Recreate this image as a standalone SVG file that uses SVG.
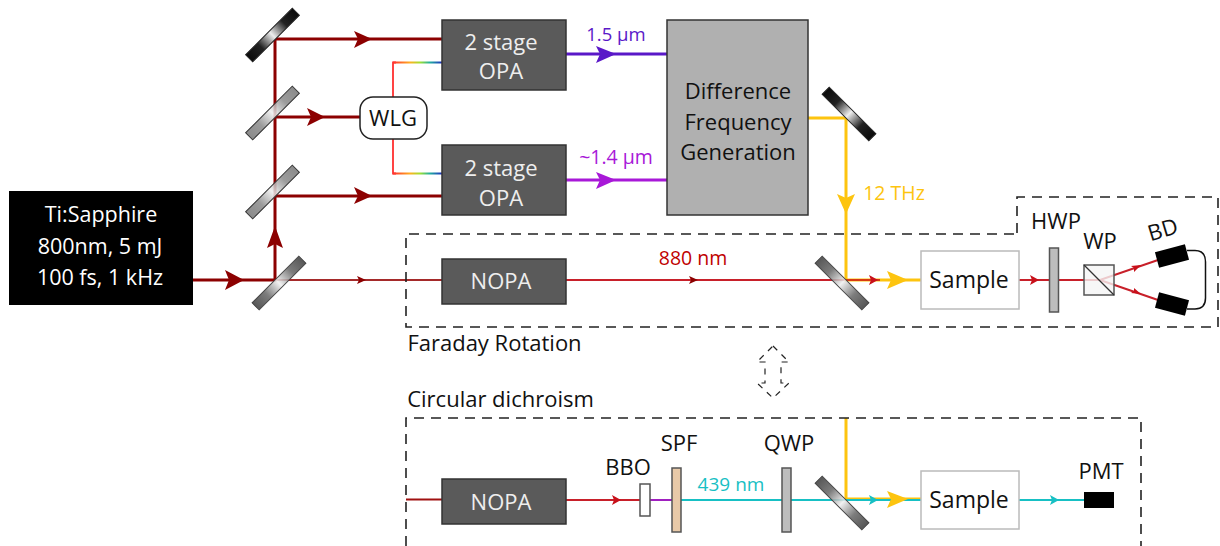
<svg xmlns="http://www.w3.org/2000/svg" width="1220" height="546" viewBox="0 0 1220 546">
<style>
text{font-family:"Open Sans","Noto Sans","Liberation Sans",sans-serif;font-size:22px;fill:#111;text-anchor:middle}
.box{fill:#5a5a5a;stroke:#333;stroke-width:1.5}
.w{fill:#eee}
.k{fill:#fff;font-size:21.500px}
.beam{fill:none;stroke:#8c0000;stroke-width:3}
.beam2{fill:none;stroke:#a52a2a;stroke-width:2}
.red{fill:none;stroke:#c8202a;stroke-width:2}
.cy{fill:none;stroke:#17c0c4;stroke-width:2}
.yl{fill:none;stroke:#fdc40f;stroke-width:3}
.dash{fill:none;stroke:#222;stroke-width:1.6;stroke-dasharray:10 7}
.plate{fill:#bdbdbd;stroke:#555;stroke-width:1.5}
.sample{fill:#fff;stroke:#bbb;stroke-width:1.5}
</style>
<defs>
<linearGradient id="m1"><stop offset="0" stop-color="#0a0a0a"/><stop offset=".25" stop-color="#222"/><stop offset=".5" stop-color="#eee"/><stop offset=".75" stop-color="#222"/><stop offset="1" stop-color="#0a0a0a"/></linearGradient>
<linearGradient id="m2"><stop offset="0" stop-color="#777"/><stop offset=".25" stop-color="#8a8a8a"/><stop offset=".5" stop-color="#eee"/><stop offset=".75" stop-color="#8a8a8a"/><stop offset="1" stop-color="#777"/></linearGradient>
<linearGradient id="m3"><stop offset="0" stop-color="#3a3a3a"/><stop offset=".25" stop-color="#666"/><stop offset=".5" stop-color="#eee"/><stop offset=".75" stop-color="#666"/><stop offset="1" stop-color="#3a3a3a"/></linearGradient>
<linearGradient id="sp" x1="0" x2="1" y1="0" y2="0"><stop offset="0" stop-color="#ff3030"/><stop offset=".35" stop-color="#ffb020"/><stop offset=".55" stop-color="#a0e030"/><stop offset=".75" stop-color="#20b0a0"/><stop offset="1" stop-color="#2030c0"/></linearGradient>
</defs>

<g id="connectors">
<path class="beam" d="M193 280H275V39H442M275 117H360M275 196H442"/>
<path class="beam2" d="M275 280H442"/>
<path d="M566 280H846" class="red"/>
<path d="M393 97V62.500H396" fill="none" stroke="#ff3030" stroke-width="1.800"/>
<path d="M393 139V173.500H396" fill="none" stroke="#ff3030" stroke-width="1.800"/>
<rect x="393" y="61.500" width="49" height="2" fill="url(#sp)"/>
<rect x="393" y="172.500" width="49" height="2" fill="url(#sp)"/>
<path d="M566 54H667" fill="none" stroke="#5a18c8" stroke-width="3"/>
<path d="M566 180H667" fill="none" stroke="#a818d8" stroke-width="3"/>
<path class="yl" d="M808 118H846V280H921"/>
<path d="M846 280H880" fill="none" stroke="#d83a10" stroke-width="2"/>
<path class="red" d="M1019 280H1100L1158 260M1100 280L1158 300"/>
<path d="M1187 250.500H1195Q1205.500 250.500 1205.500 262V298Q1205.500 309 1195 309H1187" fill="none" stroke="#111" stroke-width="1.500"/>
<path d="M406 499.500H442" fill="none" stroke="#a01010" stroke-width="2"/>
<path class="red" d="M566 500H640"/>
<path d="M650 500H675" fill="none" stroke="#a020c0" stroke-width="2"/>
<path class="yl" d="M846 418V499H921"/>
<path class="cy" d="M681 500H921M1019 500H1084"/>
<g fill="#8c0000">
<polygon points="225,270 244,280 225,290 229,280"/>
<polygon points="275,226 283,248 275,244 267,248"/>
<polygon points="354,31 372,39 354,48 358,39"/>
<polygon points="307,108 325,117 307,126 311,117"/>
<polygon points="354,187 372,196 354,204 358,196"/>
<polygon points="357,276 366,280 357,284 359,280"/>
<polygon points="689,276 698,280 689,284 691,280"/>
</g>
<polygon points="596,46 616,54 596,63 600,54" fill="#5a18c8"/>
<polygon points="596,172 616,180 596,189 600,180" fill="#a818d8"/>
<polygon points="837,194 846,214 855,194 846,198" fill="#fdc40f"/>
<polygon points="887,271 908,280 887,289 891,280" fill="#fdc40f"/>
<polygon points="887,491 908,499 887,508 891,499" fill="#fdc40f"/>
<g fill="#c8101a">
<polygon points="869,275 878,280 869,285 871,280"/>
<polygon points="1030,275 1039,280 1030,285 1032,280"/>
<polygon points="1131,266 1141,265 1134,272 1134,268"/>
<polygon points="1134,288 1141,294 1131,293 1134,291"/>
<polygon points="612,495 621,500 612,505 614,500"/>
</g>
<g fill="#17c0c4">
<polygon points="869,495 878,500 869,505 871,500"/>
<polygon points="1050,495 1059,500 1050,505 1052,500"/>
</g>
</g>

<g id="frames">
<path class="dash" d="M1017 233V197H1218V327H406V234H1017"/>
<path class="dash" d="M406 546V418H1141V546"/>
<path d="M773 346L789 362H781V383H789L773 398L757 383H765V362H757Z" fill="none" stroke="#222" stroke-width="1.200" stroke-dasharray="6 6"/>
</g>

<g id="laser"><rect x="9" y="191" width="184" height="114" fill="#000"/>
<text class="k" x="101" y="222">Ti:Sapphire</text>
<text class="k" x="100" y="254">800nm, 5 mJ</text>
<text class="k" x="100" y="285">100 fs, 1 kHz</text></g>

<g id="mirrors">
<rect x="-33" y="-5" width="66" height="10" transform="translate(272.500 35) rotate(-45)" fill="url(#m1)" stroke="#222"/>
<rect x="-33" y="-5" width="66" height="10" transform="translate(272.500 113) rotate(-45)" fill="url(#m2)" stroke="#333" fill-opacity=".85"/>
<rect x="-33" y="-5" width="66" height="10" transform="translate(272.500 192) rotate(-45)" fill="url(#m2)" stroke="#333" fill-opacity=".85"/>
<rect x="-33" y="-5" width="66" height="10" transform="translate(279 283) rotate(-45)" fill="url(#m3)" stroke="#444" fill-opacity=".85"/>
<rect x="-33" y="-5" width="66" height="10" transform="translate(849 114) rotate(45)" fill="url(#m1)" stroke="#222"/>
<rect x="-33" y="-5" width="66" height="10" transform="translate(842 283) rotate(45)" fill="url(#m3)" stroke="#444" fill-opacity=".85"/>
<rect x="-33" y="-5" width="66" height="10" transform="translate(842 503) rotate(45)" fill="url(#m3)" stroke="#444" fill-opacity=".85"/>
</g>

<g id="opa1"><rect class="box" x="442" y="20" width="124" height="70"/><text class="w" x="501" y="50">2 stage</text><text class="w" x="501" y="79">OPA</text></g>
<g id="opa2"><rect class="box" x="442" y="145" width="124" height="70"/><text class="w" x="501" y="176">2 stage</text><text class="w" x="501" y="206">OPA</text></g>
<g id="wlg"><rect x="360" y="97" width="67" height="42" rx="13" fill="#fff" stroke="#222" stroke-width="1.500"/><text x="393" y="126">WLG</text></g>
<g id="dfg"><rect x="667" y="20" width="141" height="195" fill="#b0b0b0" stroke="#333" stroke-width="1.500"/>
<text x="738" y="99">Difference</text><text x="738" y="130">Frequency</text><text x="738" y="160">Generation</text></g>
<g id="nopa1"><rect class="box" x="442" y="259" width="124" height="45"/><text class="w" x="501" y="289">NOPA</text></g>
<g id="sample1"><rect class="sample" x="921" y="251" width="98" height="58"/><text x="969" y="288" style="font-size:23px">Sample</text></g>
<g id="hwp"><rect class="plate" x="1049.500" y="248" width="9" height="64"/><text x="1056" y="229">HWP</text></g>
<g id="wp"><rect x="1084" y="265" width="30" height="30" fill="#f5f5f5" fill-opacity=".8" stroke="#555" stroke-width="1.500"/><path d="M1084 265L1114 295" stroke="#333" stroke-width="1.200"/><text x="1100" y="249">WP</text></g>
<g id="bd"><rect x="-15.500" y="-8" width="31" height="16" transform="translate(1172 256) rotate(-15)" fill="#000"/><rect x="-15.500" y="-8" width="31" height="16" transform="translate(1172 304) rotate(15)" fill="#000"/><text transform="translate(1165 237) rotate(-17)" x="0" y="0">BD</text></g>

<g id="labels">
<text x="616" y="41" style="fill:#5a18c8;font-size:18.500px">1.5 µm</text>
<text x="616" y="164" style="fill:#a818d8;font-size:19.500px">~1.4 µm</text>
<text x="693" y="265" style="fill:#c00000;font-size:19.500px">880 nm</text>
<text x="894" y="200" style="fill:#fdc40f;font-size:19.500px">12 THz</text>
<text x="494.500" y="351">Faraday Rotation</text>
<text x="500.500" y="407">Circular dichroism</text>
</g>

<g id="nopa2"><rect class="box" x="442" y="479" width="124" height="45"/><text class="w" x="501" y="510">NOPA</text></g>
<g id="bbo"><rect x="640" y="484" width="10" height="32" fill="#fff" fill-opacity=".6" stroke="#555" stroke-width="1.500"/><text x="628" y="475">BBO</text></g>
<g id="spf"><rect x="672" y="468" width="9" height="64" fill="#e8c9a8" stroke="#555" stroke-width="1.500"/><text x="679" y="451">SPF</text></g>
<g id="qwp"><rect class="plate" x="782" y="468" width="9" height="64"/><text x="789" y="451">QWP</text></g>
<text id="l439" x="731" y="491" style="fill:#17c0c4;font-size:19px">439 nm</text>
<g id="sample2"><rect class="sample" x="921" y="471" width="98" height="58"/><text x="969" y="508" style="font-size:23px">Sample</text></g>
<g id="pmt"><rect x="1084" y="492" width="30" height="16" fill="#000"/><text x="1101" y="479">PMT</text></g>
</svg>
